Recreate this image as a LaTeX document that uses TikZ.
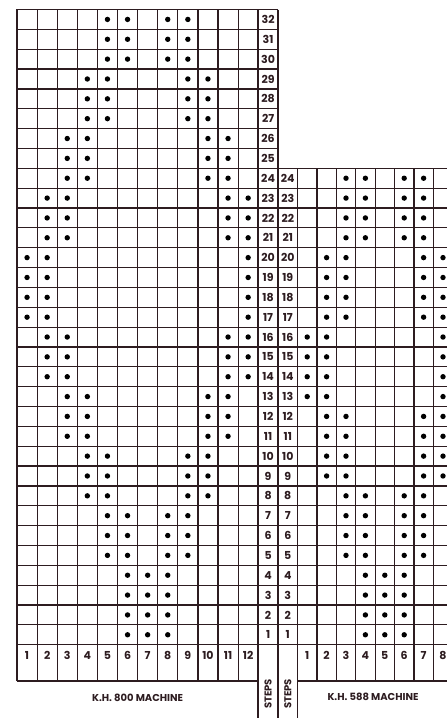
\documentclass[tikz,border=0pt]{standalone}
\usepackage{fontspec}
\setmainfont{Poppins}
\definecolor{ink}{RGB}{45,28,32}
\begin{document}
\begin{tikzpicture}[x=1pt,y=-1pt,
  gridline/.style={draw=ink, line width=1.2pt},
  border/.style={draw=ink, line width=1.6pt},
  num/.style={font=\bfseries\fontsize{11}{11}\selectfont, text=ink, inner sep=0pt, anchor=center},
  lbl/.style={font=\bfseries\fontsize{10}{10}\selectfont, text=ink, inner sep=0pt},
  dotmark/.style={circle, fill=black, inner sep=0pt, minimum size=5.4pt}]
\useasboundingbox (0,0) rectangle (447,718);
% ---------- left chart grid ----------
\foreach \j in {1,...,8}{
  \draw[gridline] (17,{9.5+\j*19.85}) -- (278,{9.5+\j*19.85});
}
\foreach \j in {9,...,32}{
  \draw[gridline] (17,{9.5+\j*19.85}) -- (447,{9.5+\j*19.85});
}
\draw[border] (278,{9.5+8*19.85}) -- (447,{9.5+8*19.85});
\foreach \i in {1,...,11}{
  \draw[gridline] ({17+\i*20.1},9.5) -- ({17+\i*20.1},681);
}
\draw[border] (17,681) -- (17,9.5) -- (278,9.5);
\draw[border] (17,681) -- (258.2,681);
\draw[border] (258.2,9.5) -- (258.2,718);
\draw[border] (278,9.5) -- (278,718);
% ---------- right chart grid ----------
\draw[border] (297.5,{9.5+8*19.85}) -- (297.5,718);
\foreach \k in {1,...,7}{
  \draw[gridline] ({297.5+\k*19.4},{9.5+8*19.85}) -- ({297.5+\k*19.4},681);
}
\draw[border] (297.5,681) -- (447,681);
% ---------- step numbers ----------
\foreach \r in {1,...,32}{
  \node[num] (sl\r) at (268.1,{9.5+(32-\r+0.5)*19.85}) {\r};
}
\foreach \r in {1,...,24}{
  \node[num] (sr\r) at (287.8,{9.5+(32-\r+0.5)*19.85}) {\r};
}
% ---------- needle numbers ----------
\foreach \c in {1,...,12}{
  \node[num] (nl\c) at ({17+(\c-0.5)*20.1},655.5) {\c};
}
\foreach \c in {1,...,8}{
  \node[num] (nr\c) at ({297.5+(\c-0.5)*19.4},655.5) {\c};
}
% ---------- labels ----------
\node[lbl] (mL) at (137.6,698) {K.H. 800 MACHINE};
\node[lbl] (mR) at (373,697) {K.H. 588 MACHINE};
\node[lbl, rotate=90] (stL) at (268.1,694) {STEPS};
\node[lbl, rotate=90] (stR) at (287.8,694) {STEPS};
% ---------- left dots ----------
\foreach \r/\cs in {32/{5,6,8,9},31/{5,6,8,9},30/{5,6,8,9},
  29/{4,5,9,10},28/{4,5,9,10},27/{4,5,9,10},
  26/{3,4,10,11},25/{3,4,10,11},24/{3,4,10,11},
  23/{2,3,11,12},22/{2,3,11,12},21/{2,3,11,12},
  20/{1,2,12},19/{1,2,12},18/{1,2,12},17/{1,2,12},
  16/{2,3,11,12},15/{2,3,11,12},14/{2,3,11,12},
  13/{3,4,10,11},12/{3,4,10,11},11/{3,4,10,11},
  10/{4,5,9,10},9/{4,5,9,10},8/{4,5,9,10},
  7/{5,6,8,9},6/{5,6,8,9},5/{5,6,8,9},
  4/{6,7,8},3/{6,7,8},2/{6,7,8},1/{6,7,8}}{
  \foreach \c in \cs {
    \node[dotmark] (dl-\r-\c) at ({17+(\c-0.5)*20.1},{9.5+(32-\r+0.5)*19.85}) {};
  }
}
% ---------- right dots ----------
\foreach \r/\cs in {24/{3,4,6,7},23/{3,4,6,7},22/{3,4,6,7},21/{3,4,6,7},
  20/{2,3,7,8},19/{2,3,7,8},18/{2,3,7,8},17/{2,3,7,8},
  16/{1,2,8},15/{1,2,8},14/{1,2,8},13/{1,2,8},
  12/{2,3,7,8},11/{2,3,7,8},10/{2,3,7,8},9/{2,3,7,8},
  8/{3,4,6,7},7/{3,4,6,7},6/{3,4,6,7},5/{3,4,6,7},
  4/{4,5,6},3/{4,5,6},2/{4,5,6},1/{4,5,6}}{
  \foreach \c in \cs {
    \node[dotmark] (dr-\r-\c) at ({297.5+(\c-0.5)*19.4},{9.5+(32-\r+0.5)*19.85}) {};
  }
}
\end{tikzpicture}
\end{document}
